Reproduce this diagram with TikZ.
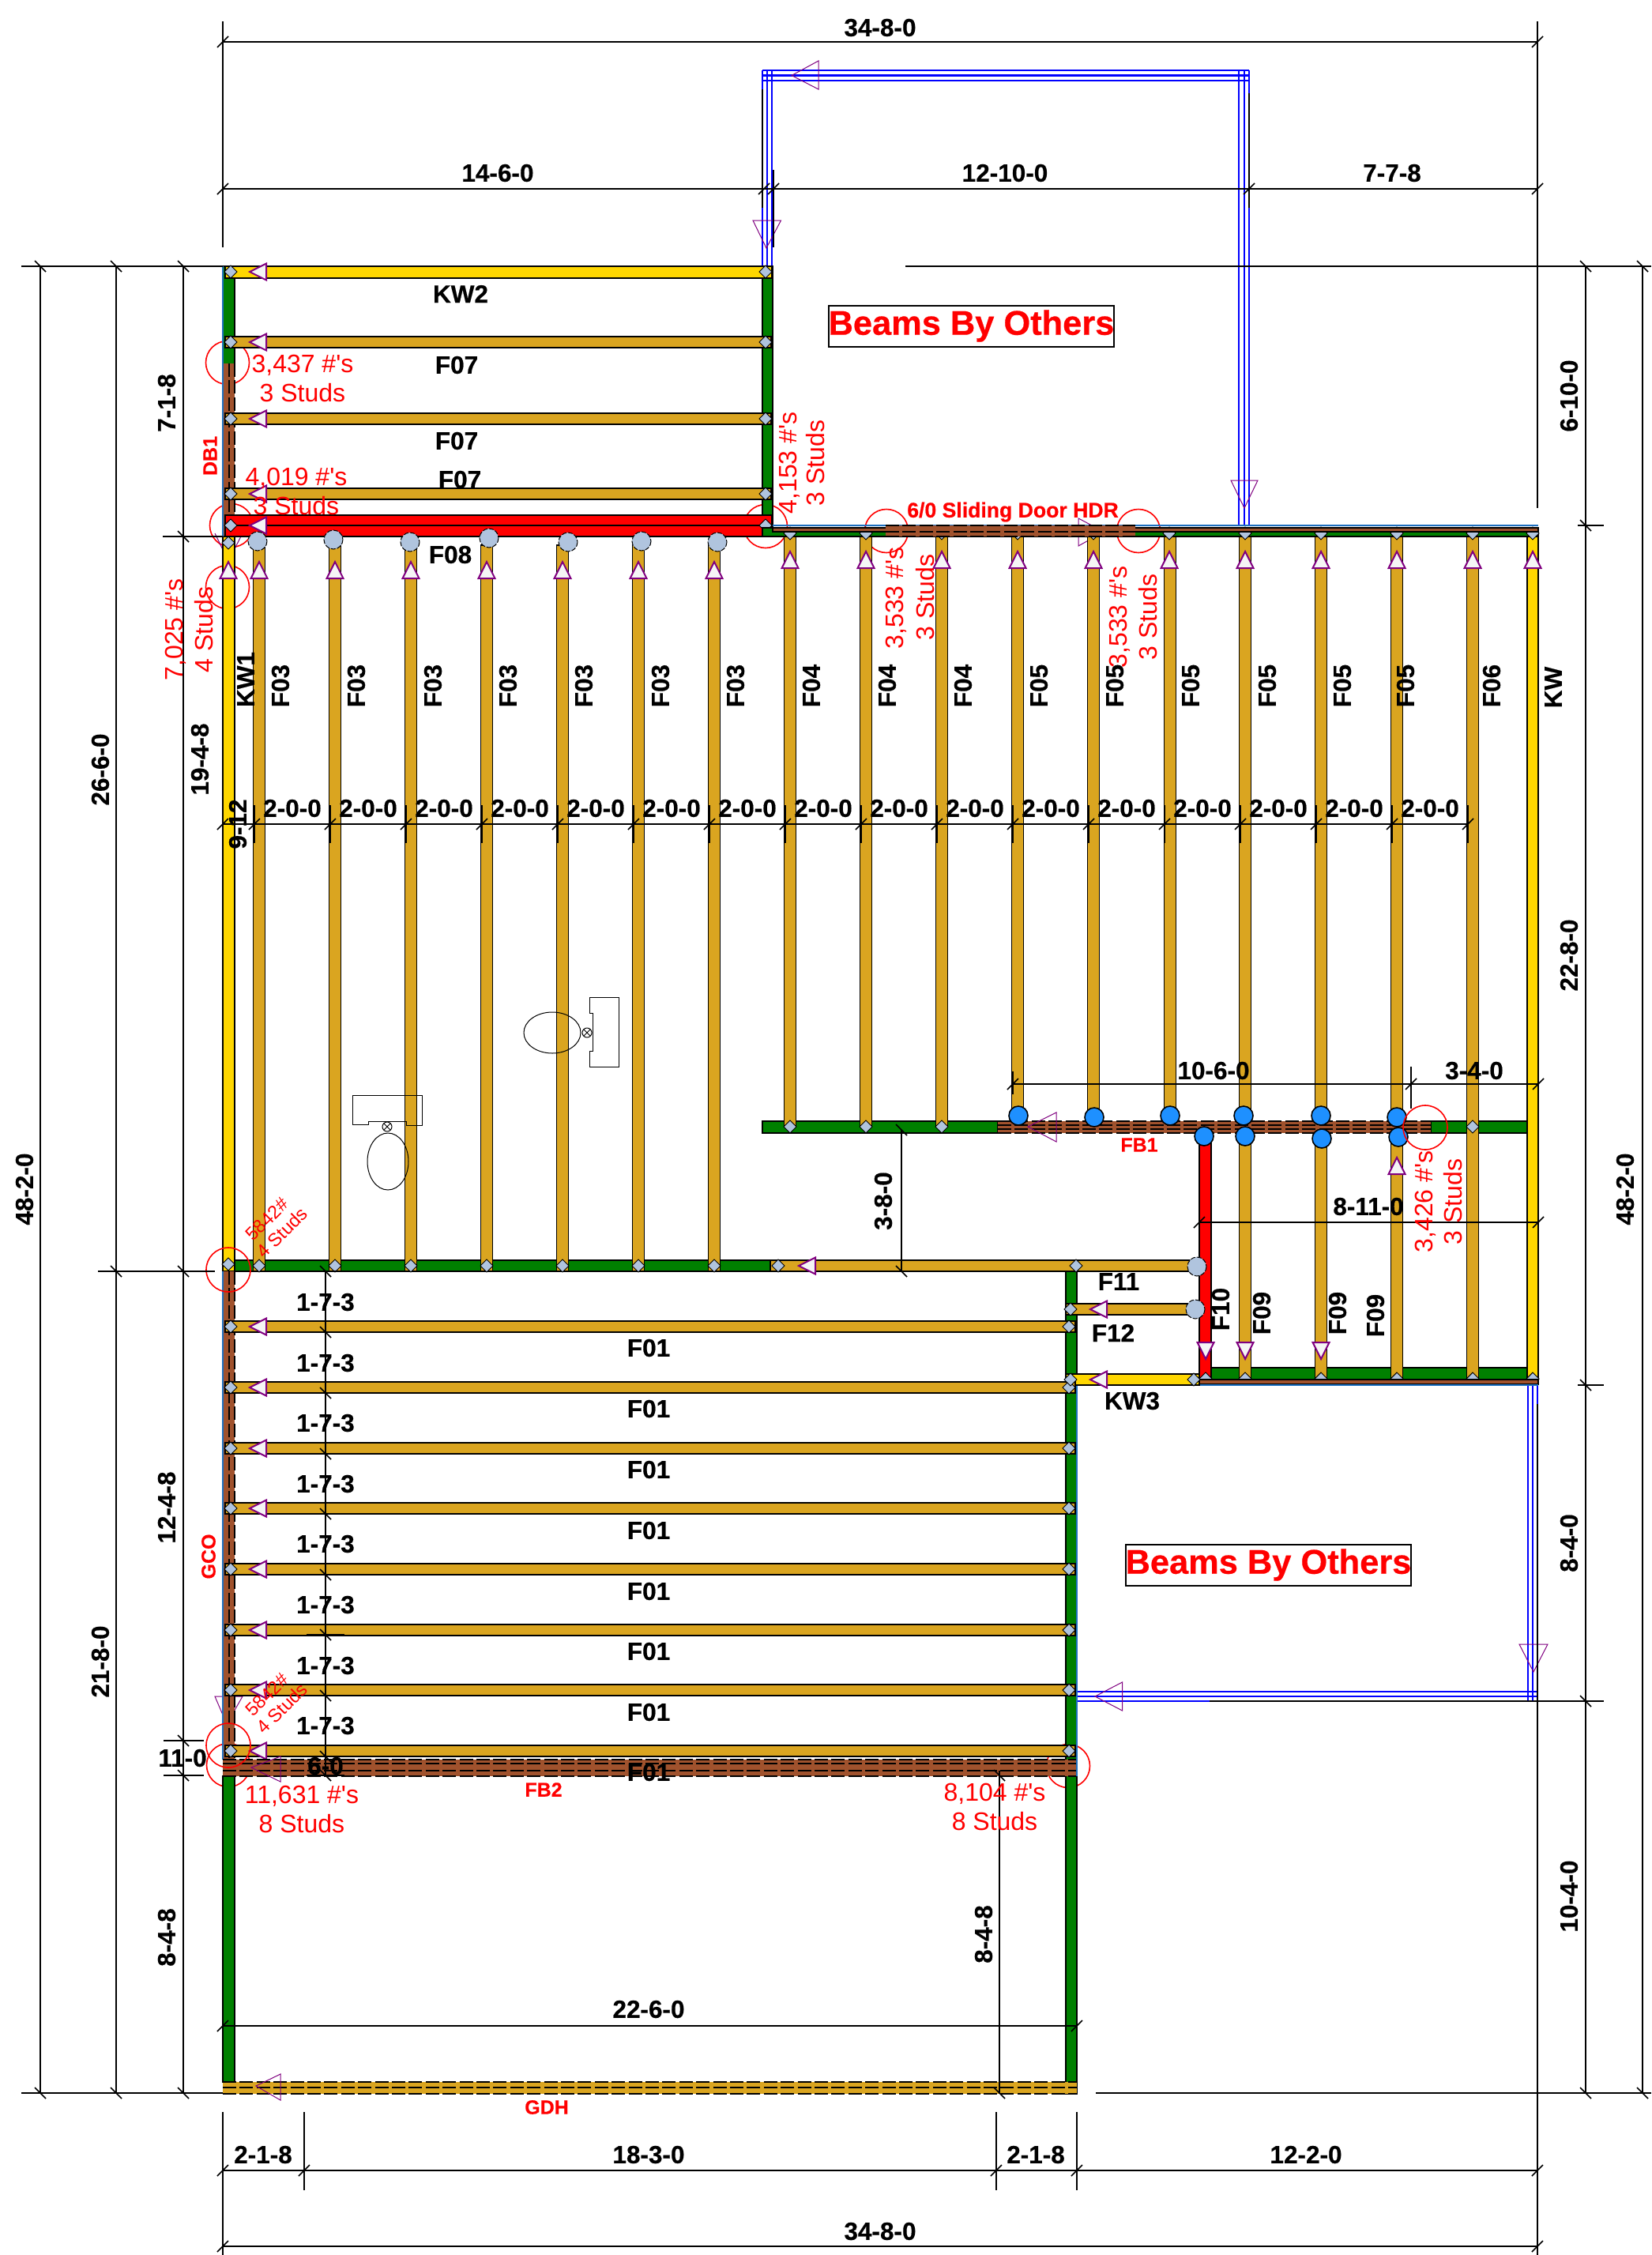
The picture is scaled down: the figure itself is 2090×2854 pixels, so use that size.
\documentclass[tikz,border=0pt]{standalone}
\usepackage{fontspec}
\setmainfont{Liberation Sans}[BoldFeatures={FakeBold=0.5}]
\definecolor{goldjoist}{HTML}{DAA520}
\definecolor{kwyellow}{HTML}{FFD700}
\definecolor{wallgreen}{HTML}{008000}
\definecolor{sienna}{HTML}{A0522D}
\definecolor{steel}{HTML}{B0C4DE}
\definecolor{dodger}{HTML}{1E90FF}
\definecolor{smoke}{HTML}{F5F5F5}
\definecolor{plum}{HTML}{800080}
\definecolor{edgeblue}{HTML}{1E70C0}
\newcount\lbl
\newcommand{\lab}[4][]{\global\advance\lbl by 1 \node[#2,#1] (L\the\lbl) at (#3) {#4};}
\newcommand{\ps}{\#\textquotesingle s}
% beams: x1 y1 x2 y2 colour
\newcommand{\bm}[5]{\draw[beam,fill=#5] (#1,#2) rectangle (#3,#4);}
\newcommand{\dia}[2]{\draw[diam] (#1-8,#2) -- (#1,#2-8) -- (#1+8,#2) -- (#1,#2+8) -- cycle;}
\newcommand{\arL}[2]{\draw[tri] (#1,#2) -- (#1+21,#2-10.5) -- (#1+21,#2+10.5) -- cycle;}
\newcommand{\arU}[2]{\draw[tri] (#1,#2) -- (#1-10.5,#2+21) -- (#1+10.5,#2+21) -- cycle;}
\newcommand{\arD}[2]{\draw[tri] (#1,#2) -- (#1-10.5,#2-21) -- (#1+10.5,#2-21) -- cycle;}
\newcommand{\tkf}[2]{\draw[dim] (#1-7,#2+7) -- (#1+7,#2-7);}
\newcommand{\tkb}[2]{\draw[dim] (#1-7,#2-7) -- (#1+7,#2+7);}
% dashed headers: x1 y1 x2 y2 colour, inner-line list
\newcommand{\hdrH}[6]{\fill[#5] (#1,#2) rectangle (#3,#4);
  \draw[hdash] (#1,#2) -- (#3,#2); \draw[hdash] (#1,#4) -- (#3,#4);
  \foreach \q in {#6} {\draw[hdash] (#1,\q) -- (#3,\q);}}
\newcommand{\hdrV}[5]{\fill[sienna] (#1,#2) rectangle (#3,#4);
  \draw[hdash] (#3,#2) -- (#3,#4);
  \draw[hdash] (#5,#2) -- (#5,#4);
  \draw[edge] (#1,#2) -- (#1,#4);}
\tikzset{
  beam/.style={draw=black,line width=0.85pt},
  diam/.style={draw=black,line width=0.5pt,fill=steel},
  tri/.style={draw=plum,line width=1pt,fill=smoke,line join=miter},
  ghost/.style={draw=plum,line width=0.5pt},
  dim/.style={draw=black,line width=0.8pt},
  hdash/.style={draw=black,line width=0.7pt,dash pattern=on 8.5pt off 2.2pt},
  edge/.style={draw=edgeblue,line width=0.7pt},
  bthin/.style={draw=blue,line width=0.55pt},
  bthick/.style={draw=blue,line width=1.3pt},
  ring/.style={draw=red,line width=0.8pt},
  pin/.style={draw=black,line width=0.5pt,dash pattern=on 3pt off 1pt,fill=steel},
  post/.style={draw=black,line width=0.8pt,fill=dodger},
  fixture/.style={draw=black,line width=0.5pt},
  blk/.style={inner sep=0pt,font=\fontsize{15.75}{16}\selectfont\bfseries,text=black},
  redb/.style={inner sep=0pt,font=\fontsize{12.5}{13}\selectfont\bfseries,text=red},
  redw/.style={inner sep=0pt,font=\fontsize{13.3}{14}\selectfont\bfseries,text=red},
  redn/.style={inner sep=0pt,font=\fontsize{16}{16}\selectfont,text=red},
  reds/.style={inner sep=0pt,font=\fontsize{11.7}{12}\selectfont,text=red},
  others/.style={draw=black,line width=1pt,fill=white,inner sep=0pt,minimum width=180.5pt,minimum height=26pt,font=\fontsize{21.7}{22}\selectfont\bfseries,text=red}
}
\begin{document}
\begin{tikzpicture}[x=0.5pt,y=-0.5pt]
\useasboundingbox (0,0) rectangle (2090,2854);
\fill[white] (0,0) rectangle (2090,2854);

% ---------- rings and ghost arrows lying behind the framing
\foreach \x/\y in {288/459,293/665,288/743,969/666,1122/672,1441/672,289/2234,1352/2235}
  {\draw[ring] (\x,\y) circle [radius=27.5];}
\draw[ghost] (272,675) -- (289,710) -- (307,675);
\draw[ghost] (272,2147) -- (307,2147) -- (287,2182) -- cycle;
\draw[ghost] (1397,673) -- (1365,656) -- (1365,691) -- cycle;

% ---------- beams by others (blue triple lines)
\foreach \a/\s in {89/bthin,95.5/bthick,102/bthin} {\draw[\s] (965,\a) -- (1581,\a);}
\foreach \a/\s in {965/bthin,971/bthick,977/bthin} {\draw[\s] (\a,89) -- (\a,337);}
\foreach \a/\s in {1568/bthin,1575/bthick,1581/bthin} {\draw[\s] (\a,89) -- (\a,665);}
\foreach \a/\s in {1934/bthin,1940/bthick,1946/bthin} {\draw[\s] (\a,1753) -- (\a,2153);}
\foreach \a/\s in {2141/bthin,2147/bthick,2153/bthin} {\draw[\s] (1363,\a) -- (1946,\a);}

% ---------- upper-left bay
\bm{282}{337}{297}{465}{wallgreen}
\hdrV{282}{460}{297}{679}{290}
\bm{965}{337}{978}{679}{wallgreen}
\bm{285}{337}{977}{352}{kwyellow}
\foreach \y in {433,530,625} {\bm{285}{\y-7}{976}{\y+7}{goldjoist}}
\bm{285}{652}{977}{679}{red}
\draw[beam] (285,665) -- (977,665);
\foreach \y in {344,433,530,625,665} {\dia{292}{\y}\arL{316}{\y}\dia{969}{\y}}

% ---------- walls of the main floor
\bm{965}{668}{1947}{679}{wallgreen}
\bm{965}{1419}{1263}{1434}{wallgreen}
\bm{1811}{1419}{1933}{1434}{wallgreen}
\bm{1518}{1731}{1933}{1746}{wallgreen}
\bm{297}{1595}{975}{1609}{wallgreen}

% ---------- joists
\bm{282}{679}{297}{1609}{kwyellow}
\bm{1933}{679}{1947}{1746}{kwyellow}
\foreach \x in {328,424,520,616,712,808,904} {\bm{\x-7.5}{690}{\x+7.5}{1609}{goldjoist}}
\foreach \x in {1000,1096,1192} {\bm{\x-7.5}{679}{\x+7.5}{1426}{goldjoist}}
\foreach \x in {1288,1384,1481} {\bm{\x-7.5}{679}{\x+7.5}{1419}{goldjoist}}
\foreach \x in {1576,1672,1768} {\bm{\x-7.5}{679}{\x+7.5}{1419}{goldjoist}
                                  \bm{\x-7.5}{1438}{\x+7.5}{1746}{goldjoist}}
\bm{1856.5}{679}{1871.5}{1746}{goldjoist}
\bm{1518}{1440}{1533}{1746}{red}

% diamonds at the bearing ends
\foreach \x in {1000,1096,1192,1288,1384,1480,1576,1672,1768,1864,1940} {\dia{\x}{675}}
\foreach \x in {1526,1576,1672,1768,1864,1940} {\dia{\x}{1745}}
\foreach \x in {1000,1096,1192,1864} {\dia{\x}{1426}}
\foreach \x in {328,424,520,616,712,808,904} {\dia{\x}{1602}}
\dia{289}{687}\dia{289}{1600}

% brown plates over the diamonds
\bm{978}{668}{1947}{673}{sienna}
\bm{1518}{1746}{1947}{1752}{sienna}
\draw[edge] (978,665) -- (1947,665);
\draw[edge] (1363,1753) -- (1947,1753);
\hdrH{1121}{665}{1437}{679}{sienna}{673}
\hdrH{1263}{1419}{1811}{1434}{sienna}{1424,1429}

% ---------- lower bay
\hdrV{282}{1609}{297}{2227}{290}
\bm{282}{2248}{297}{2635}{wallgreen}
\bm{1349}{1609}{1363}{2650}{wallgreen}
\draw[edge] (1363,1753) -- (1363,2248);
\draw[edge] (282,337) -- (282,679);
\bm{975}{1595}{1515}{1609}{goldjoist}
\bm{1349}{1650}{1510}{1664}{goldjoist}
\bm{1349}{1739}{1518}{1753}{kwyellow}
\foreach \y in {1679,1756,1833,1909,1986,2063,2139,2216} {
  \bm{285}{\y-7}{1361}{\y+7}{goldjoist}
  \dia{292}{\y}\arL{316}{\y}\dia{1353}{\y}}
\hdrH{282}{2227}{1362}{2248}{sienna}{2232,2241}
\hdrH{282}{2635}{1363}{2650}{goldjoist}{2642}
\dia{985}{1602}\dia{1362}{1602}\dia{1355}{1657}\dia{1355}{1746}\dia{1511}{1746}
\arL{1011}{1602}\arL{1380}{1657}\arL{1380}{1746}

% ---------- arrows on joists
\arU{289}{711}
\foreach \x in {328,424,520,616,712,808,904} {\arU{\x}{711}}
\foreach \x in {1000,1096,1192,1288,1384,1480,1576,1672,1768,1864,1940} {\arU{\x}{698}}
\arU{1768}{1465}
\foreach \x in {1526,1576,1672} {\arD{\x}{1720}}

% ---------- pins and posts
\foreach \x/\y in {326/685,422/683,519/686,619/681,719/686,812/685,908/686,1515/1603,1513/1657}
  {\draw[pin] (\x,\y) circle [radius=12];}
\foreach \x/\y in {1289/1412,1385/1414,1481/1412,1574/1412,1672/1412,1768/1414,1524/1438,1576/1438,1673/1441,1770/1439}
  {\draw[post] (\x,\y) circle [radius=12];}

% ---------- outline arrows of the girders
\draw[ghost] (1002,95.5) -- (1036,77) -- (1036,113) -- cycle;
\draw[ghost] (970,314) -- (953,279) -- (988.5,279) -- cycle;
\draw[ghost] (1575,643) -- (1558,608) -- (1592,608) -- cycle;
\draw[ghost] (1386,2147) -- (1420.5,2129) -- (1420.5,2165) -- cycle;
\draw[ghost] (1941,2116) -- (1923,2081) -- (1959,2081) -- cycle;
\draw[ghost] (1301,1426) -- (1337,1408) -- (1337,1445) -- cycle;
\draw[ghost] (318,2237) -- (355,2223) -- (355,2255) -- cycle;
\draw[ghost] (324,2640) -- (355,2625) -- (355,2658) -- cycle;

% ---------- rings in front
\foreach \x/\y in {289/1607,289/2209,1804/1427} {\draw[ring] (\x,\y) circle [radius=28];}

% ---------- plumbing fixtures
\draw[fixture] (446,1386) -- (534,1386) -- (534,1424) -- (514,1424) -- (514,1419) -- (466,1419) -- (466,1423) -- (446,1423) -- cycle;
\draw[fixture] (491,1470) ellipse [x radius=26,y radius=36];
\draw[fixture] (490,1426) circle [radius=6];
\draw[fixture] (486,1422) -- (494,1430) (486,1430) -- (494,1422);
\draw[fixture] (746,1262) -- (783,1262) -- (783,1350) -- (746,1350) -- (746,1330) -- (750,1330) -- (750,1282) -- (746,1282) -- cycle;
\draw[fixture] (699,1307) ellipse [x radius=36,y radius=26];
\draw[fixture] (743,1307) circle [radius=6];
\draw[fixture] (739,1303) -- (747,1311) (739,1311) -- (747,1303);

% ---------- dimension lines: top
\draw[dim] (282,53) -- (1946,53);
\draw[dim] (282,239) -- (1946,239);
\draw[dim] (282,27) -- (282,313);
\draw[dim] (1946,27) -- (1946,643);
\draw[dim] (965,113) -- (965,263);
\draw[dim] (979,215) -- (979,313);
\draw[dim] (1581,118) -- (1581,263);
\foreach \x in {282,1946} {\tkf{\x}{53}}
\foreach \x in {282,967,979,1581,1946} {\tkf{\x}{239}}
% left
\draw[dim] (27,337) -- (282,337);
\draw[dim] (1146,337) -- (2090,337);
\draw[dim] (206,679) -- (282,679);
\draw[dim] (124,1609) -- (272,1609);
\draw[dim] (27,2649) -- (282,2649);
\draw[dim] (207,2203) -- (258,2203);
\draw[dim] (207,2247) -- (258,2247);
\draw[dim] (51,337) -- (51,2649);
\draw[dim] (147,337) -- (147,2649);
\draw[dim] (232,337) -- (232,2649);
\foreach \x in {51,147,232} {\tkb{\x}{337}\tkb{\x}{2649}}
\tkb{232}{679}\tkb{147}{1609}\tkb{232}{1609}\tkb{232}{2203}\tkb{232}{2247}
% right
\draw[dim] (2007,337) -- (2007,2649);
\draw[dim] (2079,337) -- (2079,2649);
\draw[dim] (1997,665) -- (2030,665);
\draw[dim] (1997,1753) -- (2030,1753);
\draw[dim] (1531,2153) -- (2030,2153);
\draw[dim] (1387,2649) -- (2090,2649);
\draw[dim] (1946,1777) -- (1946,2854);
\foreach \y in {337,665,1753,2153,2649} {\tkb{2007}{\y}}
\tkb{2079}{337}\tkb{2079}{2649}
% bottom
\draw[dim] (282,2747) -- (1946,2747);
\draw[dim] (282,2843) -- (1946,2843);
\draw[dim] (282,2673) -- (282,2854);
\foreach \x in {385,1261,1363} {\draw[dim] (\x,2673) -- (\x,2772);}
\foreach \x in {282,385,1261,1363,1946} {\tkf{\x}{2747}}
\tkf{282}{2843}\tkf{1946}{2843}
% interior
\draw[dim] (282,1043) -- (1858,1043);
\foreach \x in {282,322,418,514,610,706,802,898,994,1090,1186,1282,1378,1474,1570,1666,1762,1858}
  {\draw[dim] (\x,1019) -- (\x,1067); \tkf{\x}{1043}}
\draw[dim] (282,2564) -- (1363,2564);
\draw[dim] (1363,2540) -- (1363,2571);
\tkf{282}{2564}\tkf{1363}{2564}
\draw[dim] (1265,2241) -- (1265,2650);
\tkb{1265}{2247}\tkb{1265}{2649}
\draw[dim] (1141,1430) -- (1141,1609);
\tkb{1141}{1430}\tkb{1141}{1609}
\draw[dim] (1282,1372) -- (1947,1372);
\draw[dim] (1282,1356) -- (1282,1385);
\draw[dim] (1786,1350) -- (1786,1403);
\tkf{1282}{1372}\tkf{1786}{1372}\tkf{1947}{1372}
\draw[dim] (1518,1547) -- (1947,1547);
\tkf{1518}{1547}\tkf{1947}{1547}
\draw[dim] (412,1609) -- (412,2248);
\foreach \y in {1609,1686,1763,1840,1916,1993,2069,2146,2223,2247}
  {\draw[dim] (388,\y) -- (436,\y); \tkb{412}{\y}}

% ---------- member labels
\lab{blk}{583,372}{KW2}
\lab{blk}{578,462}{F07}\lab{blk}{578,558}{F07}\lab{blk}{582,607}{F07}
\lab{blk}{570,702}{F08}
\lab[rotate=90]{blk}{311,860}{KW1}
\foreach \x in {355,451,548,643,739,836,931} {\lab[rotate=90]{blk}{\x,868}{F03}}
\foreach \x in {1027,1123,1219} {\lab[rotate=90]{blk}{\x,868}{F04}}
\foreach \x in {1315,1411,1507,1604,1699,1779} {\lab[rotate=90]{blk}{\x,868}{F05}}
\lab[rotate=90]{blk}{1888,868}{F06}
\lab[rotate=90]{blk}{1966,870}{KW}
\foreach \y in {1706,1783,1860,1937,2014,2090,2167,2243} {\lab{blk}{821,\y}{F01}}
\lab{blk}{1416,1622}{F11}\lab{blk}{1409,1687}{F12}\lab{blk}{1433,1773}{KW3}
\lab[rotate=90]{blk}{1545,1657}{F10}
\lab[rotate=90]{blk}{1597,1662}{F09}\lab[rotate=90]{blk}{1693,1662}{F09}\lab[rotate=90]{blk}{1741,1665}{F09}

% ---------- dimension labels
\lab{blk}{1114,35}{34-8-0}\lab{blk}{630,219}{14-6-0}\lab{blk}{1272,219}{12-10-0}\lab{blk}{1762,219}{7-7-8}
\lab[rotate=90]{blk}{31,1505}{48-2-0}\lab[rotate=90]{blk}{127,974}{26-6-0}\lab[rotate=90]{blk}{127,2103}{21-8-0}
\lab[rotate=90]{blk}{211,510}{7-1-8}\lab[rotate=90]{blk}{253,961}{19-4-8}\lab[rotate=90]{blk}{211,1908}{12-4-8}
\lab[rotate=90]{blk}{211,2452}{8-4-8}\lab{blk}{231,2225}{11-0}
\lab[rotate=90]{blk}{301,1043}{9-12}
\foreach \x in {370,466,562,658,754,850,946,1042,1138,1234,1330,1426,1522,1618,1714,1810} {\lab{blk}{\x,1023}{2-0-0}}
\lab[rotate=90]{blk}{1986,501}{6-10-0}\lab[rotate=90]{blk}{1986,1209}{22-8-0}
\lab[rotate=90]{blk}{1986,1953}{8-4-0}\lab[rotate=90]{blk}{1986,2400}{10-4-0}
\lab[rotate=90]{blk}{2057,1505}{48-2-0}
\lab{blk}{333,2727}{2-1-8}\lab{blk}{821,2727}{18-3-0}\lab{blk}{1311,2727}{2-1-8}\lab{blk}{1653,2727}{12-2-0}
\lab{blk}{1114,2824}{34-8-0}
\lab{blk}{821,2543}{22-6-0}
\lab[rotate=90]{blk}{1245,2448}{8-4-8}
\lab[rotate=90]{blk}{1118,1520}{3-8-0}
\lab{blk}{1536,1355}{10-6-0}\lab{blk}{1866,1355}{3-4-0}\lab{blk}{1732,1527}{8-11-0}
\foreach \y in {1648,1725,1801,1878,1954,2031,2108,2184} {\lab{blk}{412,\y}{1-7-3}}
\lab{blk}{412,2235}{6-0}

% ---------- beam names
\lab[rotate=90]{redb}{266,577}{DB1}
\lab{redw}{1282,648}{6/0 Sliding Door HDR}
\lab{redb}{1442,1449}{FB1}
\lab[rotate=90]{redb}{264,1970}{GCO}
\lab{redb}{688,2265}{FB2}
\lab{redb}{692,2667}{GDH}

% ---------- reactions
\lab{redn}{383,462}{3,437 \ps}\lab{redn}{383,497}{3 Studs}
\lab{redn}{375,605}{4,019 \ps}\lab{redn}{375,640}{3 Studs}
\lab[rotate=90]{redn}{999,586}{4,153 \ps}\lab[rotate=90]{redn}{1032,586}{3 Studs}
\lab[rotate=90]{redn}{1134,757}{3,533 \ps}\lab[rotate=90]{redn}{1171,756}{3 Studs}
\lab[rotate=90]{redn}{1417,781}{3,533 \ps}\lab[rotate=90]{redn}{1453,781}{3 Studs}
\lab[rotate=90]{redn}{222,797}{7,025 \ps}\lab[rotate=90]{redn}{258,797}{4 Studs}
\lab[rotate=90]{redn}{1804,1521}{3,426 \ps}\lab[rotate=90]{redn}{1839,1521}{3 Studs}
\lab{redn}{382,2273}{11,631 \ps}\lab{redn}{382,2308}{8 Studs}
\lab{redn}{1259,2270}{8,104 \ps}\lab{redn}{1259,2305}{8 Studs}
\lab[rotate=45]{reds}{338,1543}{5842\#}\lab[rotate=45]{reds}{357,1560}{4 Studs}
\lab[rotate=45]{reds}{338,2145}{5842\#}\lab[rotate=45]{reds}{357,2162}{4 Studs}

% ---------- notes
\lab{others}{1229.5,412.5}{Beams By Others}
\lab{others}{1605.5,1980.5}{Beams By Others}
\end{tikzpicture}
\end{document}
